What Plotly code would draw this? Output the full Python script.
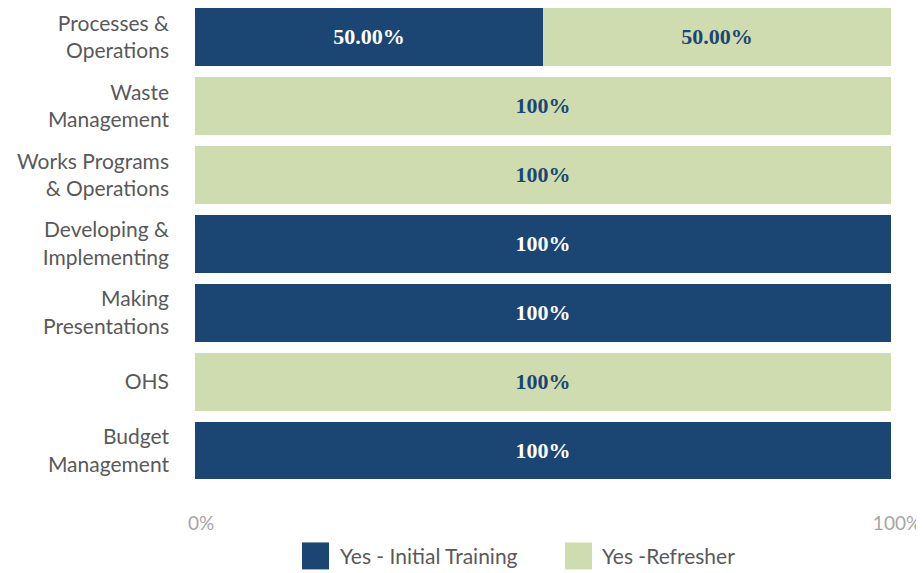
import plotly.graph_objects as go

categories = ["Processes &<br>Operations", "Waste<br>Management", "Works Programs<br>& Operations",
              "Developing &<br>Implementing", "Making<br>Presentations", "OHS", "Budget<br>Management"]
initial_training = [50, 0, 0, 100, 100, 0, 100]
refresher = [50, 100, 100, 0, 0, 100, 0]
initial_text = ["50.00%", "", "", "100%", "100%", "", "100%"]
refresher_text = ["50.00%", "100%", "100%", "", "", "100%", ""]
series_names = ["Yes - Initial Training", "Yes -Refresher"]
tick_vals = [0, 100]
tick_text = ["0%", "100%"]

NAVY = "#1B4673"
GREEN = "#CFDCAF"
colors = [NAVY, GREEN]

fig = go.Figure()
fig.add_trace(go.Bar(
    y=categories, x=initial_training, orientation="h", name=series_names[0],
    marker=dict(color=NAVY, line=dict(width=0)),
    text=initial_text, textposition="inside", insidetextanchor="middle",
    textfont=dict(family="Liberation Serif", size=22, color="white", weight="bold"),
    showlegend=False,
))
fig.add_trace(go.Bar(
    y=categories, x=refresher, orientation="h", name=series_names[1],
    marker=dict(color=GREEN, line=dict(width=0)),
    text=refresher_text, textposition="inside", insidetextanchor="middle",
    textfont=dict(family="Liberation Serif", size=22, color=NAVY, weight="bold"),
    showlegend=False,
))

# manual legend (large square swatches)
legend_x = [0.1731, 0.5510]
legend_text_x = [0.2055, 0.5819]
legend_y = -0.1487
shapes = []
annotations = []
for i in range(2):
    shapes.append(dict(type="rect", xref="paper", yref="paper",
                       xsizemode="pixel", ysizemode="pixel",
                       xanchor=legend_x[i], yanchor=legend_y,
                       x0=-13.5, x1=13.5, y0=-13.5, y1=13.5,
                       fillcolor=colors[i], line=dict(width=0)))
    annotations.append(dict(text=series_names[i], xref="paper", yref="paper",
                            x=legend_text_x[i], y=legend_y, xanchor="left", yanchor="middle",
                            showarrow=False, font=dict(size=21, color="#595959")))

fig.update_layout(
    barmode="stack",
    bargap=0.16,
    width=916, height=565,
    margin=dict(l=187, r=33, t=0, b=88, autoexpand=False),
    paper_bgcolor="white", plot_bgcolor="white",
    font=dict(family="Lato", color="#595959", size=18),
    uniformtext=dict(mode="show", minsize=10),
    shapes=shapes,
    annotations=annotations,
    xaxis=dict(range=[0, 100], tickvals=tick_vals, ticktext=tick_text, showgrid=False,
               zeroline=False, showline=False, ticklabelstandoff=25, ticklabelshift=6,
               tickfont=dict(size=19, color="#A6A6A6"), automargin=False),
    yaxis=dict(range=[6.5, -0.42], showgrid=False, ticks="", ticklabelstandoff=25,
               tickfont=dict(size=21, color="#595959"), automargin=False),
)

fig.write_html("out.html")
